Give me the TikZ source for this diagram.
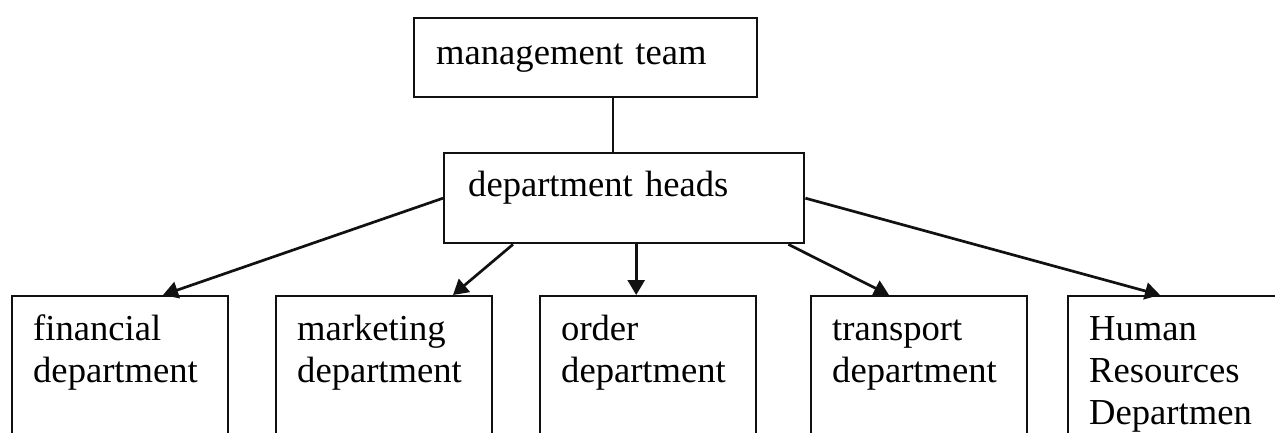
\documentclass[tikz,border=0pt]{standalone}
\usepackage{fontspec}
\setmainfont{Liberation Serif}
\usetikzlibrary{arrows.meta,positioning,calc}
\definecolor{ink}{HTML}{111111}

\begin{document}
\begin{tikzpicture}[x=0.5pt,y=-0.5pt,
  box/.style={draw=ink,line width=1.2pt,anchor=north west,align=left,inner ysep=0pt,
    font=\fontsize{18.3}{21}\selectfont},
  dept/.style={box,text width=87pt,minimum width=108pt,inner xsep=10.5pt,
    text height=22pt,text depth=160pt},
  link/.style={draw=ink,line width=1.35pt,-{Triangle[length=7.5pt,width=8.5pt]}}]
  \clip (0,0) rectangle (1275,433);
  % top of the chart
  \node[box,text width=149.5pt,inner xsep=11pt,minimum height=39.5pt,
    text height=12pt,text depth=5.5pt] (mgmt) at (413,17) {management team};
  \node[box,text width=156pt,inner xsep=12pt,minimum height=45pt,
    text height=10pt,text depth=12pt] (heads) at (443,152) {department heads};
  \draw[ink,line width=1.2pt] ([xshift=13.75pt]mgmt.south) -- ([xshift=13.75pt]mgmt.south |- heads.north);
  % departments
  \foreach \name/\x/\txt in {fin/11/{financial\\department},mkt/275/{marketing\\department},
      ord/539/{order\\department},trn/810/{transport\\department},
      hr/1067/{Human\\Resources\\Departmen}} {
    \node[dept] (\name) at (\x,295) {\txt};
  }
  \draw[link] (heads.west) -- ([xshift=76pt]fin.north west);
  \draw[link] ([xshift=35pt]heads.south west) -- ([xshift=89pt]mkt.north west);
  \draw[link] ([xshift=6pt]heads.south) -- ([xshift=6pt]heads.south |- ord.north);
  \draw[link] ([xshift=-8.5pt]heads.south east) -- ([xshift=39.5pt]trn.north west);
  \draw[link] (heads.east) -- ([xshift=46.5pt]hr.north west);
\end{tikzpicture}
\end{document}
